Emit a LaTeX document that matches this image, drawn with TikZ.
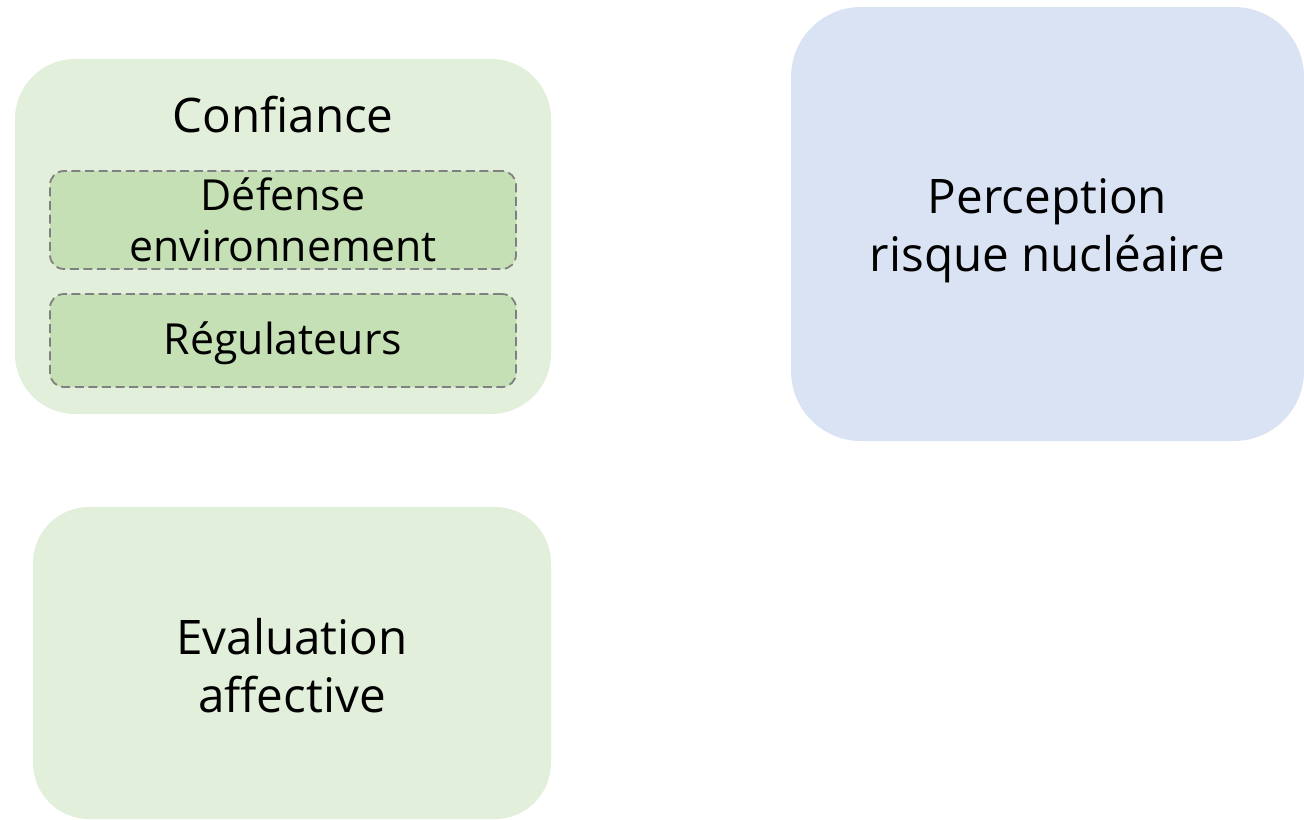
\documentclass[tikz,border=0pt]{standalone}
\usepackage{fontspec}
\setmainfont{Open Sans}
\usepackage{xcolor}
\usetikzlibrary{positioning}
\definecolor{greenlight}{HTML}{E2EFDA}
\definecolor{greenmid}{HTML}{C5E0B4}
\definecolor{bluelight}{HTML}{DAE3F3}
\definecolor{dashgray}{HTML}{808080}
\tikzset{
  bigbox/.style={rectangle, inner sep=0pt, align=center,
    font=\fontsize{23.8}{29}\selectfont},
  subbox/.style={rectangle, rounded corners=7pt, fill=greenmid, draw=dashgray,
    line width=0.9pt, dash pattern=on 4.5pt off 2.3pt, inner sep=0pt,
    minimum width=233pt, align=center, font=\fontsize{21.4}{25.5}\selectfont},
}
\begin{document}
\begin{tikzpicture}[x=0.5pt,y=-0.5pt]
\useasboundingbox (0,0) rectangle (1304,819);
% left column
\node[bigbox, fill=greenlight, rounded corners=30pt, minimum width=268pt, minimum height=177.5pt] (conf) at (283,236.5) {};
\node[bigbox] (conftitle) at (283,115) {Confiance};
\node[subbox, minimum height=49pt] (defense) at (283,220) {Défense\\environnement};
\node[subbox, minimum height=46.5pt] (regul) at (283,340.5) {};
\node[bigbox, font=\fontsize{21.4}{25.5}\selectfont] (regullabel) at (283,343) {Régulateurs};
\node[bigbox, fill=greenlight, rounded corners=28pt, minimum width=259pt, minimum height=156pt] (evalaff) at (292,663) {};
\node[bigbox] (evallabel) at (292,666) {Evaluation\\affective};
% right column
\node[bigbox, fill=bluelight, rounded corners=35pt, minimum width=256.5pt, minimum height=217pt] (percep) at (1047.5,224) {};
\node[bigbox] (perceplabel) at (1047.5,231) {Perception\\risque nucléaire};
\end{tikzpicture}
\end{document}
